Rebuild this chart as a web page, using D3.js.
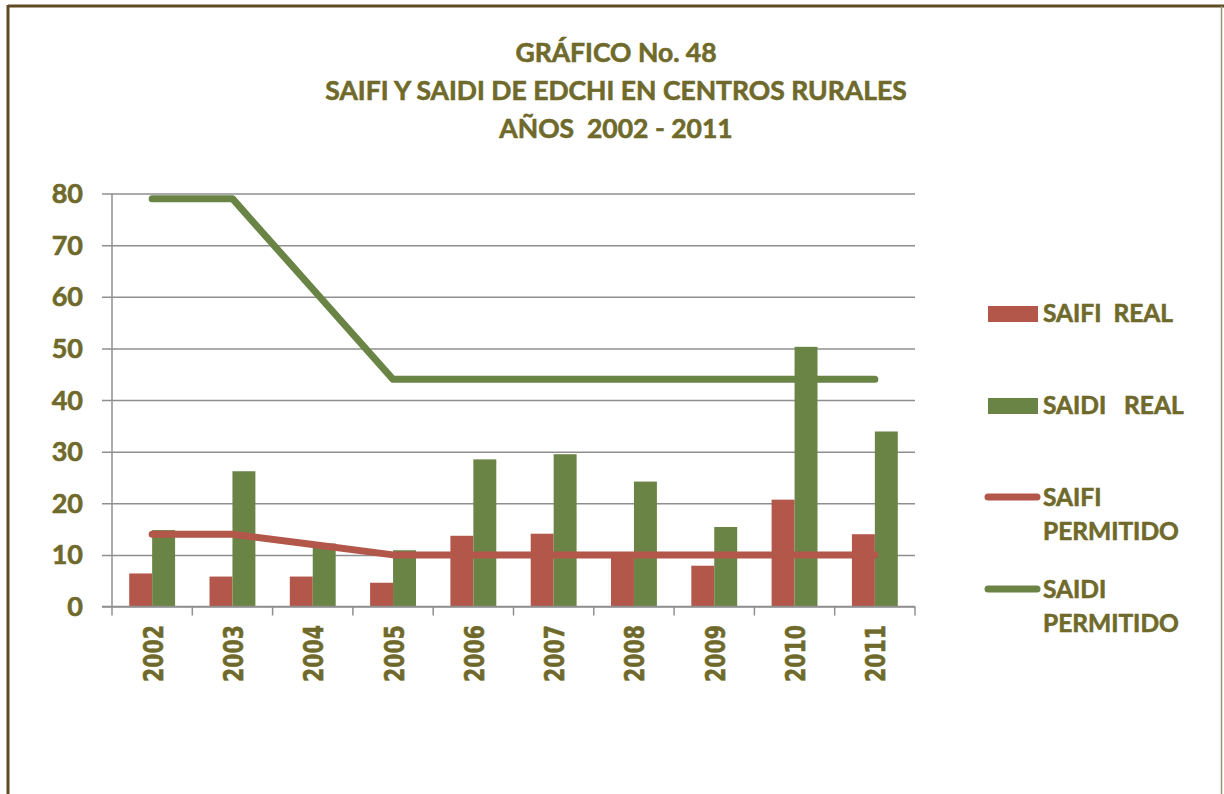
<!DOCTYPE html>
<html lang="es">
<head>
  <meta charset="UTF-8">
  <title>Gráfico No. 48</title>
  <script src="https://d3js.org/d3.v7.min.js"></script>
  <style>
    body { margin: 0; background: #fff; }
    svg { display: block; font-family: Lato, "Open Sans", sans-serif; font-weight: bold; }
    svg text { stroke: #6f6a2b; stroke-width: 0.6px; }
  </style>
</head>
<body>
<svg id="chart" width="1224" height="794"></svg>
<script>
// values
const years = ["2002", "2003", "2004", "2005", "2006", "2007", "2008", "2009", "2010", "2011"];
const saifiReal = [6.4, 5.8, 5.8, 4.6, 13.7, 14.1, 10.2, 7.9, 20.7, 14.0];
const saidiReal = [14.8, 26.2, 12.2, 10.9, 28.5, 29.5, 24.2, 15.4, 50.3, 33.9];
const saifiPermitido = [14, 14, 12, 10, 10, 10, 10, 10, 10, 10];
const saidiPermitido = [79, 79, 61.5, 44, 44, 44, 44, 44, 44, 44];
const yTicks = [0, 10, 20, 30, 40, 50, 60, 70, 80];
const titleLines = ["GRÁFICO No. 48", "SAIFI Y SAIDI DE EDCHI EN CENTROS RURALES", "AÑOS  2002 - 2011"];

const red = "#b3574a", green = "#6a8446", textColor = "#6f6a2b", gridColor = "#8f8f8f";

const svg = d3.select("#chart");

// frame
svg.append("line").attr("x1", 8).attr("x2", 1224).attr("y1", 6).attr("y2", 6)
  .attr("stroke", "#5e4b24").attr("stroke-width", 3);
svg.append("line").attr("x1", 8).attr("x2", 8).attr("y1", 5).attr("y2", 794)
  .attr("stroke", "#5e4b24").attr("stroke-width", 3);
svg.append("line").attr("x1", 1221.5).attr("x2", 1221.5).attr("y1", 6).attr("y2", 794)
  .attr("stroke", "#9a9276").attr("stroke-width", 1.5);

// title
svg.append("g").selectAll("text")
  .data(titleLines)
  .join("text")
  .attr("x", 616)
  .attr("y", (d, i) => 62 + i * 38)
  .attr("text-anchor", "middle")
  .attr("fill", textColor)
  .attr("font-size", 26.5)
  .style("white-space", "pre")
  .text(d => d);

const margin = { left: 112, right: 915, top: 193.5, bottom: 606.5 };

const x = d3.scaleBand().domain(years).range([margin.left, margin.right]);
const x1 = d3.scaleBand().domain(["saifi", "saidi"])
  .range([0, x.bandwidth()]).paddingInner(0).paddingOuter(0.75);
const y = d3.scaleLinear().domain([0, 80]).range([margin.bottom, margin.top]);

// gridlines
const gy = svg.append("g").attr("transform", `translate(${margin.left - 10},0)`);
gy.call(d3.axisLeft(y).tickValues(yTicks).tickSize(-(margin.right - margin.left + 10)).tickFormat(""));
gy.select(".domain").remove();
gy.selectAll(".tick line").attr("stroke", gridColor).attr("stroke-width", 1.5);

svg.append("line")
  .attr("x1", margin.left).attr("x2", margin.left)
  .attr("y1", y(80)).attr("y2", y(0))
  .attr("stroke", gridColor).attr("stroke-width", 1.5);

svg.append("g").selectAll("text")
  .data(yTicks)
  .join("text")
  .attr("x", 83)
  .attr("y", d => y(d) + 9.5)
  .attr("text-anchor", "end")
  .attr("fill", textColor)
  .attr("font-size", 27)
  .text(d => d);

// bars
const bars = svg.append("g");
bars.selectAll(".saifi")
  .data(years)
  .join("rect")
  .attr("class", "saifi")
  .attr("x", d => x(d) + x1("saifi"))
  .attr("width", x1.bandwidth())
  .attr("y", (d, i) => y(saifiReal[i]))
  .attr("height", (d, i) => y(0) - y(saifiReal[i]))
  .attr("fill", red);
bars.selectAll(".saidi")
  .data(years)
  .join("rect")
  .attr("class", "saidi")
  .attr("x", d => x(d) + x1("saidi"))
  .attr("width", x1.bandwidth())
  .attr("y", (d, i) => y(saidiReal[i]))
  .attr("height", (d, i) => y(0) - y(saidiReal[i]))
  .attr("fill", green);

// x axis
const xAxis = svg.append("g").attr("transform", `translate(0,${margin.bottom})`);
xAxis.append("line")
  .attr("x1", margin.left - 10).attr("x2", margin.right)
  .attr("stroke", gridColor).attr("stroke-width", 1.5);
xAxis.selectAll(".tk")
  .data(years.concat(["end"]))
  .join("line")
  .attr("class", "tk")
  .attr("x1", (d, i) => margin.left + i * x.step())
  .attr("x2", (d, i) => margin.left + i * x.step())
  .attr("y1", 0).attr("y2", 9)
  .attr("stroke", gridColor).attr("stroke-width", 1.5);
xAxis.selectAll("text")
  .data(years)
  .join("text")
  .attr("transform", d => `translate(${x(d) + x.bandwidth() / 2 + 10.5},18.5) rotate(-90)`)
  .attr("text-anchor", "end")
  .attr("fill", textColor)
  .style("font-family", "'DejaVu Sans', Verdana, sans-serif")
  .attr("font-size", 26)
  .attr("textLength", 57)
  .attr("lengthAdjust", "spacingAndGlyphs")
  .text(d => d);

// lines
const line = d3.line()
  .x((d, i) => x(years[i]) + x.bandwidth() / 2)
  .y(d => y(d));
svg.append("path").datum(saidiPermitido)
  .attr("d", line).attr("fill", "none")
  .attr("stroke", green).attr("stroke-width", 7)
  .attr("stroke-linecap", "round").attr("stroke-linejoin", "round");
svg.append("path").datum(saifiPermitido)
  .attr("d", line).attr("fill", "none")
  .attr("stroke", red).attr("stroke-width", 7)
  .attr("stroke-linecap", "round").attr("stroke-linejoin", "round");

// legend
const legend = svg.append("g").attr("fill", textColor).attr("font-size", 24.5);
legend.append("rect").attr("x", 988).attr("y", 306).attr("width", 50).attr("height", 16).attr("fill", red);
legend.append("text").attr("x", 1043).attr("y", 322).style("white-space", "pre").text("SAIFI  REAL");
legend.append("rect").attr("x", 988).attr("y", 398).attr("width", 50).attr("height", 16).attr("fill", green);
legend.append("text").attr("x", 1043).attr("y", 414).style("white-space", "pre").text("SAIDI   REAL");
legend.append("line").attr("x1", 988).attr("x2", 1037).attr("y1", 497).attr("y2", 497)
  .attr("stroke", red).attr("stroke-width", 7).attr("stroke-linecap", "round");
legend.append("text").attr("x", 1043).attr("y", 506).text("SAIFI");
legend.append("text").attr("x", 1043).attr("y", 540).text("PERMITIDO");
legend.append("line").attr("x1", 988).attr("x2", 1037).attr("y1", 589).attr("y2", 589)
  .attr("stroke", green).attr("stroke-width", 7).attr("stroke-linecap", "round");
legend.append("text").attr("x", 1043).attr("y", 598).text("SAIDI");
legend.append("text").attr("x", 1043).attr("y", 632).text("PERMITIDO");
</script>
</body>
</html>
